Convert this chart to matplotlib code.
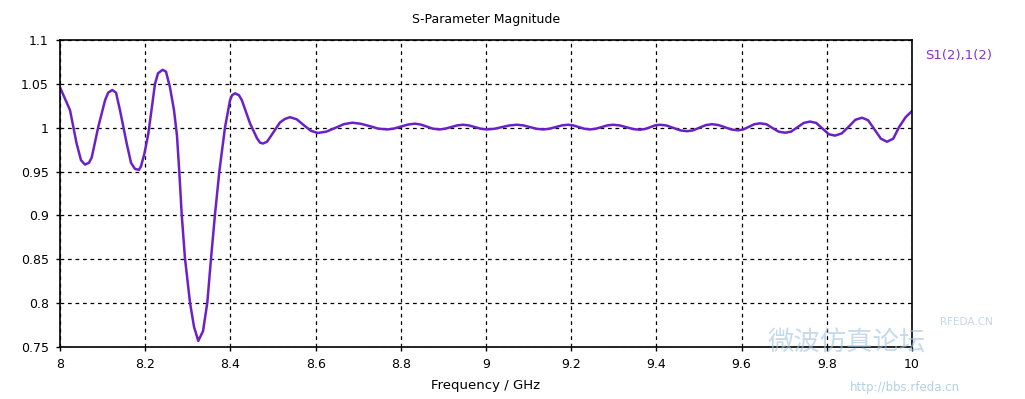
import numpy as np
import matplotlib
matplotlib.use('Agg')
import matplotlib.pyplot as plt

# values (frequency in GHz, |S21|)
freq = [8.0, 8.0235, 8.039, 8.0493, 8.0587, 8.068, 8.0744, 8.0899, 8.1056, 8.1131,
        8.1228, 8.1315, 8.1408, 8.1566, 8.1667, 8.1761, 8.1854, 8.1901, 8.1979, 8.2073,
        8.223, 8.2300, 8.2406, 8.2488, 8.2582, 8.2676, 8.2746, 8.28, 8.2857, 8.2934,
        8.3052, 8.3146, 8.3246, 8.3357, 8.3458, 8.3545, 8.3638, 8.374, 8.3873, 8.3991,
        8.4038, 8.4108, 8.4202, 8.4272, 8.446, 8.4624, 8.4695, 8.4765, 8.4859, 8.493,
        8.5164, 8.528, 8.54, 8.556, 8.572, 8.589, 8.605, 8.625, 8.645, 8.666,
        8.686, 8.706, 8.727, 8.747, 8.768, 8.784, 8.800, 8.817, 8.833, 8.847,
        8.861, 8.875, 8.8895, 8.9035, 8.918, 8.932, 8.946, 8.960, 8.974, 8.988,
        9.0023, 9.020, 9.0375, 9.055, 9.0728, 9.088, 9.103, 9.1185, 9.1338, 9.1485,
        9.163, 9.178, 9.1925, 9.205, 9.218, 9.231, 9.244, 9.2575, 9.271, 9.2845,
        9.298, 9.314, 9.330, 9.346, 9.3615, 9.373, 9.385, 9.397, 9.4085, 9.424,
        9.440, 9.456, 9.4718, 9.486, 9.501, 9.516, 9.5305, 9.546, 9.561, 9.576,
        9.5915, 9.604, 9.617, 9.630, 9.6432, 9.658, 9.673, 9.687, 9.7019, 9.716,
        9.731, 9.746, 9.7606, 9.775, 9.790, 9.805, 9.8192, 9.835, 9.851, 9.867,
        9.8826, 9.897, 9.912, 9.927, 9.9413, 9.956, 9.970, 9.985, 10.0]
mag = [1.046, 1.020, 0.982, 0.963, 0.958, 0.960, 0.966, 1.001, 1.031, 1.040,
       1.043, 1.040, 1.020, 0.982, 0.960, 0.953, 0.952, 0.956, 0.970, 0.993,
       1.050, 1.062, 1.066, 1.064, 1.046, 1.020, 0.991, 0.950, 0.901, 0.851,
       0.8006, 0.773, 0.757, 0.768, 0.8006, 0.851, 0.901, 0.950, 1.0003, 1.0312,
       1.037, 1.0392, 1.037, 1.031, 1.005, 0.988, 0.983, 0.982, 0.984, 0.989,
       1.006, 1.010, 1.012, 1.0095, 1.003, 0.9965, 0.994, 0.9955, 0.9995, 1.004,
       1.0057, 1.0045, 1.0018, 0.999, 0.998, 0.999, 1.0013, 1.0036, 1.0046, 1.0036,
       1.0013, 0.999, 0.998, 0.9988, 1.0007, 1.0026, 1.0034, 1.0026, 1.0007, 0.9988,
       0.998, 0.9988, 1.0007, 1.0026, 1.0034, 1.0026, 1.0007, 0.9988, 0.998, 0.9988,
       1.0007, 1.0026, 1.0034, 1.0026, 1.0007, 0.9988, 0.998, 0.9988, 1.0007, 1.0026,
       1.0034, 1.0026, 1.0005, 0.9984, 0.9977, 0.9985, 1.0005, 1.0027, 1.0034, 1.0025,
       0.9997, 0.997, 0.996, 0.997, 1.000, 1.003, 1.004, 1.003, 1.0005, 0.998,
       0.997, 0.998, 1.001, 1.004, 1.005, 1.004, 0.9995, 0.9955, 0.9943, 0.9955,
       1.0005, 1.0055, 1.007, 1.0055, 0.999, 0.9925, 0.991, 0.9935, 1.001, 1.009,
       1.0114, 1.0085, 0.998, 0.9875, 0.984, 0.9875, 1.001, 1.012, 1.019]

xticks = [8, 8.2, 8.4, 8.6, 8.8, 9, 9.2, 9.4, 9.6, 9.8, 10]
yticks = [0.75, 0.8, 0.85, 0.9, 0.95, 1, 1.05, 1.1]

plt.rcParams['font.family'] = ['DejaVu Sans', 'Noto Sans CJK SC']

fig = plt.figure(figsize=(10.25, 3.99), dpi=100)
ax = fig.add_axes([60/1025, 1-347/399, (912-60)/1025, (347-40)/399])

ax.plot(freq, mag, color='#6a22c8', lw=1.8, solid_joinstyle='round')

ax.set_xlim(8, 10)
ax.set_ylim(0.75, 1.1)
ax.set_xticks(xticks)
ax.set_xticklabels(['%g' % t for t in xticks])
ax.set_yticks(yticks)
ax.set_yticklabels(['%g' % t for t in yticks])
ax.tick_params(direction='out', length=3, width=1, labelsize=9, pad=5, colors='black')
ax.grid(True, color='black', linestyle=(0, (3, 3)), linewidth=0.9)
for s in ax.spines.values():
    s.set_color('black')
    s.set_linewidth(1.2)

ax.set_title('S-Parameter Magnitude', fontsize=9, pad=12)
ax.set_xlabel('Frequency / GHz', fontsize=9.5, labelpad=6)

fig.text(925/1025, 1-55/399, 'S1(2),1(2)', color='#8b2fc9', fontsize=9.5, va='center')

# faint watermark (kept just above the tick labels)
fig.text(768/1025, 1-343/399, '微波仿真论坛', color='#9fc4e0', alpha=0.6, fontsize=19,
         va='center', family=['Noto Sans CJK SC', 'DejaVu Sans'])
fig.text(850/1025, 1-388/399, 'http://bbs.rfeda.cn', color='#9fc4e0', alpha=0.8,
         fontsize=8.5, va='center')
fig.text(940/1025, 1-322/399, 'RFEDA.CN', color='#a8c8e0', alpha=0.7,
         fontsize=7.5, va='center')

fig.savefig('out.png', dpi=100)
